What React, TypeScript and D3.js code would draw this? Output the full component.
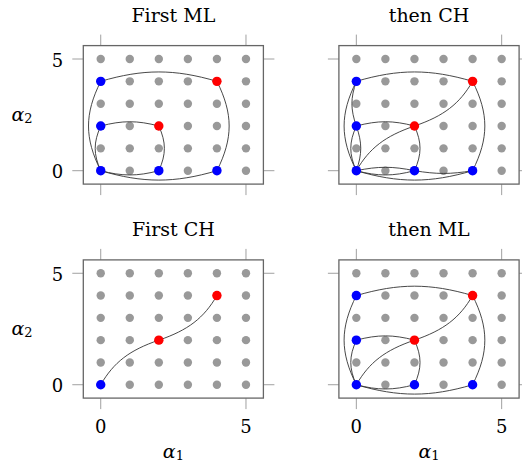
import React from "react";
import * as d3 from "d3";

type P = [number, number];
type Edge = { from: P; to: P; bend: number };

const DOMAIN: [number, number] = [-0.6, 5.6];
const GRID_VALUES = [0, 1, 2, 3, 4, 5];
const X_TICKS = [0, 5];
const Y_TICKS = [0, 5];
const TITLES = ["First ML", "then CH", "First CH", "then ML"];

const BLUE_ML: P[] = [[0, 0], [2, 0], [4, 0], [0, 2], [0, 4]];
const BLUE_CH: P[] = [[0, 0]];
const RED_POINTS: P[] = [[2, 2], [4, 4]];

const ML_OUTER: Edge[] = [
  { from: [0, 4], to: [4, 4], bend: 21 },
  { from: [4, 4], to: [4, 0], bend: 21 },
  { from: [4, 0], to: [0, 0], bend: 21 },
  { from: [0, 0], to: [0, 4], bend: 21 },
];
const ML_INNER: Edge[] = [
  { from: [0, 2], to: [2, 2], bend: 19 },
  { from: [2, 2], to: [2, 0], bend: 19 },
  { from: [2, 0], to: [0, 0], bend: 19 },
  { from: [0, 0], to: [0, 2], bend: 19 },
];
const CH_DIAGONAL: Edge[] = [
  { from: [0, 0], to: [2, 2], bend: 21 },
  { from: [2, 2], to: [4, 4], bend: -21 },
];
const CH_CHAIN: Edge[] = [
  { from: [0, 4], to: [0, 2], bend: -15 },
  { from: [0, 2], to: [0, 0], bend: 15 },
  { from: [0, 0], to: [2, 0], bend: 15 },
  { from: [2, 0], to: [4, 0], bend: -12 },
];

const PANELS = [
  { title: TITLES[0], col: 0, row: 0, edges: [...ML_OUTER, ...ML_INNER], blue: BLUE_ML, red: RED_POINTS },
  { title: TITLES[1], col: 1, row: 0, edges: [...ML_OUTER, ...ML_INNER, ...CH_DIAGONAL, ...CH_CHAIN], blue: BLUE_ML, red: RED_POINTS },
  { title: TITLES[2], col: 0, row: 1, edges: [...CH_DIAGONAL], blue: BLUE_CH, red: RED_POINTS },
  { title: TITLES[3], col: 1, row: 1, edges: [...ML_OUTER, ...ML_INNER, ...CH_DIAGONAL], blue: BLUE_ML, red: RED_POINTS },
];

const COL_X: [number, number][] = [[83.3, 263.4], [338.9, 519.1]];
const ROW_Y: [number, number][] = [[184.1, 45.6], [398.1, 259.9]];
const FONT = "'DejaVu Serif', serif";
const TICK_LEN = 11;

function edgePath(e: Edge, x: d3.ScaleLinear<number, number>, y: d3.ScaleLinear<number, number>) {
  const [x0, y0] = e.from;
  const [x1, y1] = e.to;
  const dx = x1 - x0, dy = y1 - y0;
  const k = 0.3915;
  const rot = (a: number): P => [dx * Math.cos(a) - dy * Math.sin(a), dx * Math.sin(a) + dy * Math.cos(a)];
  const t = (e.bend * Math.PI) / 180;
  const r1 = rot(t), r2 = rot(-t);
  const c1: P = [x0 + k * r1[0], y0 + k * r1[1]];
  const c2: P = [x1 - k * r2[0], y1 - k * r2[1]];
  const p = d3.path();
  p.moveTo(x(x0), y(y0));
  p.bezierCurveTo(x(c1[0]), y(c1[1]), x(c2[0]), y(c2[1]), x(x1), y(y1));
  return p.toString();
}

function AlphaLabel({ x, y, sub }: { x: number; y: number; sub: string }) {
  return (
    <text x={x} y={y} textAnchor="middle" dominantBaseline="central" fontFamily={FONT} fontSize={19}>
      <tspan fontStyle="italic">α</tspan>
      <tspan fontSize={13} dy={4}>{sub}</tspan>
    </text>
  );
}

function Panel({ panel }: { panel: typeof PANELS[number] }) {
  const [xl, xr] = COL_X[panel.col];
  const [yb, yt] = ROW_Y[panel.row];
  const x = d3.scaleLinear().domain(DOMAIN).range([xl, xr]);
  const y = d3.scaleLinear().domain(DOMAIN).range([yb, yt]);
  const cx = (xl + xr) / 2;
  const cy = (yb + yt) / 2;
  const grid: P[] = [];
  GRID_VALUES.forEach((gy) => GRID_VALUES.forEach((gx) => grid.push([gx, gy])));
  return (
    <g>
      <text x={cx} y={yt - 24} textAnchor="middle" fontFamily={FONT} fontSize={19}>{panel.title}</text>
      {X_TICKS.map((t) => (
        <g key={"xt" + t} stroke="#a0a0a0" strokeWidth={1}>
          <line x1={x(t)} x2={x(t)} y1={yt - TICK_LEN} y2={yt} />
          <line x1={x(t)} x2={x(t)} y1={yb} y2={yb + TICK_LEN} />
        </g>
      ))}
      {Y_TICKS.map((t) => (
        <g key={"yt" + t} stroke="#a0a0a0" strokeWidth={1}>
          <line x1={xl - TICK_LEN} x2={xl} y1={y(t)} y2={y(t)} />
          <line x1={xr} x2={xr + TICK_LEN} y1={y(t)} y2={y(t)} />
        </g>
      ))}
      <rect x={xl} y={yt} width={xr - xl} height={yb - yt} fill="white" stroke="#666" strokeWidth={1.3} />
      {grid.map(([gx, gy]) => (
        <circle key={`g${gx}-${gy}`} cx={x(gx)} cy={y(gy)} r={4.2} fill="#999" />
      ))}
      {panel.edges.map((e, i) => (
        <path key={"e" + i} d={edgePath(e, x, y)} fill="none" stroke="#333" strokeWidth={0.9} />
      ))}
      {panel.blue.map(([px, py]) => (
        <circle key={`b${px}-${py}`} cx={x(px)} cy={y(py)} r={4.7} fill="#0000ff" />
      ))}
      {panel.red.map(([px, py]) => (
        <circle key={`r${px}-${py}`} cx={x(px)} cy={y(py)} r={4.7} fill="#ff0000" />
      ))}
      {panel.col === 0 &&
        Y_TICKS.map((t) => (
          <text key={"yl" + t} x={xl - 20} y={y(t) + 1} textAnchor="end" dominantBaseline="central" fontFamily={FONT} fontSize={18}>
            {t}
          </text>
        ))}
      {panel.row === 1 &&
        X_TICKS.map((t) => (
          <text key={"xl" + t} x={x(t)} y={yb + 28} textAnchor="middle" dominantBaseline="central" fontFamily={FONT} fontSize={18}>
            {t}
          </text>
        ))}
      {panel.col === 0 && <AlphaLabel x={22} y={cy - 1} sub="2" />}
      {panel.row === 1 && <AlphaLabel x={cx} y={451} sub="1" />}
    </g>
  );
}

export default function App() {
  return (
    <svg width={522} height={467} style={{ position: "absolute", left: 0, top: 0, background: "white" }}>
      {PANELS.map((p, i) => (
        <Panel key={i} panel={p} />
      ))}
    </svg>
  );
}
